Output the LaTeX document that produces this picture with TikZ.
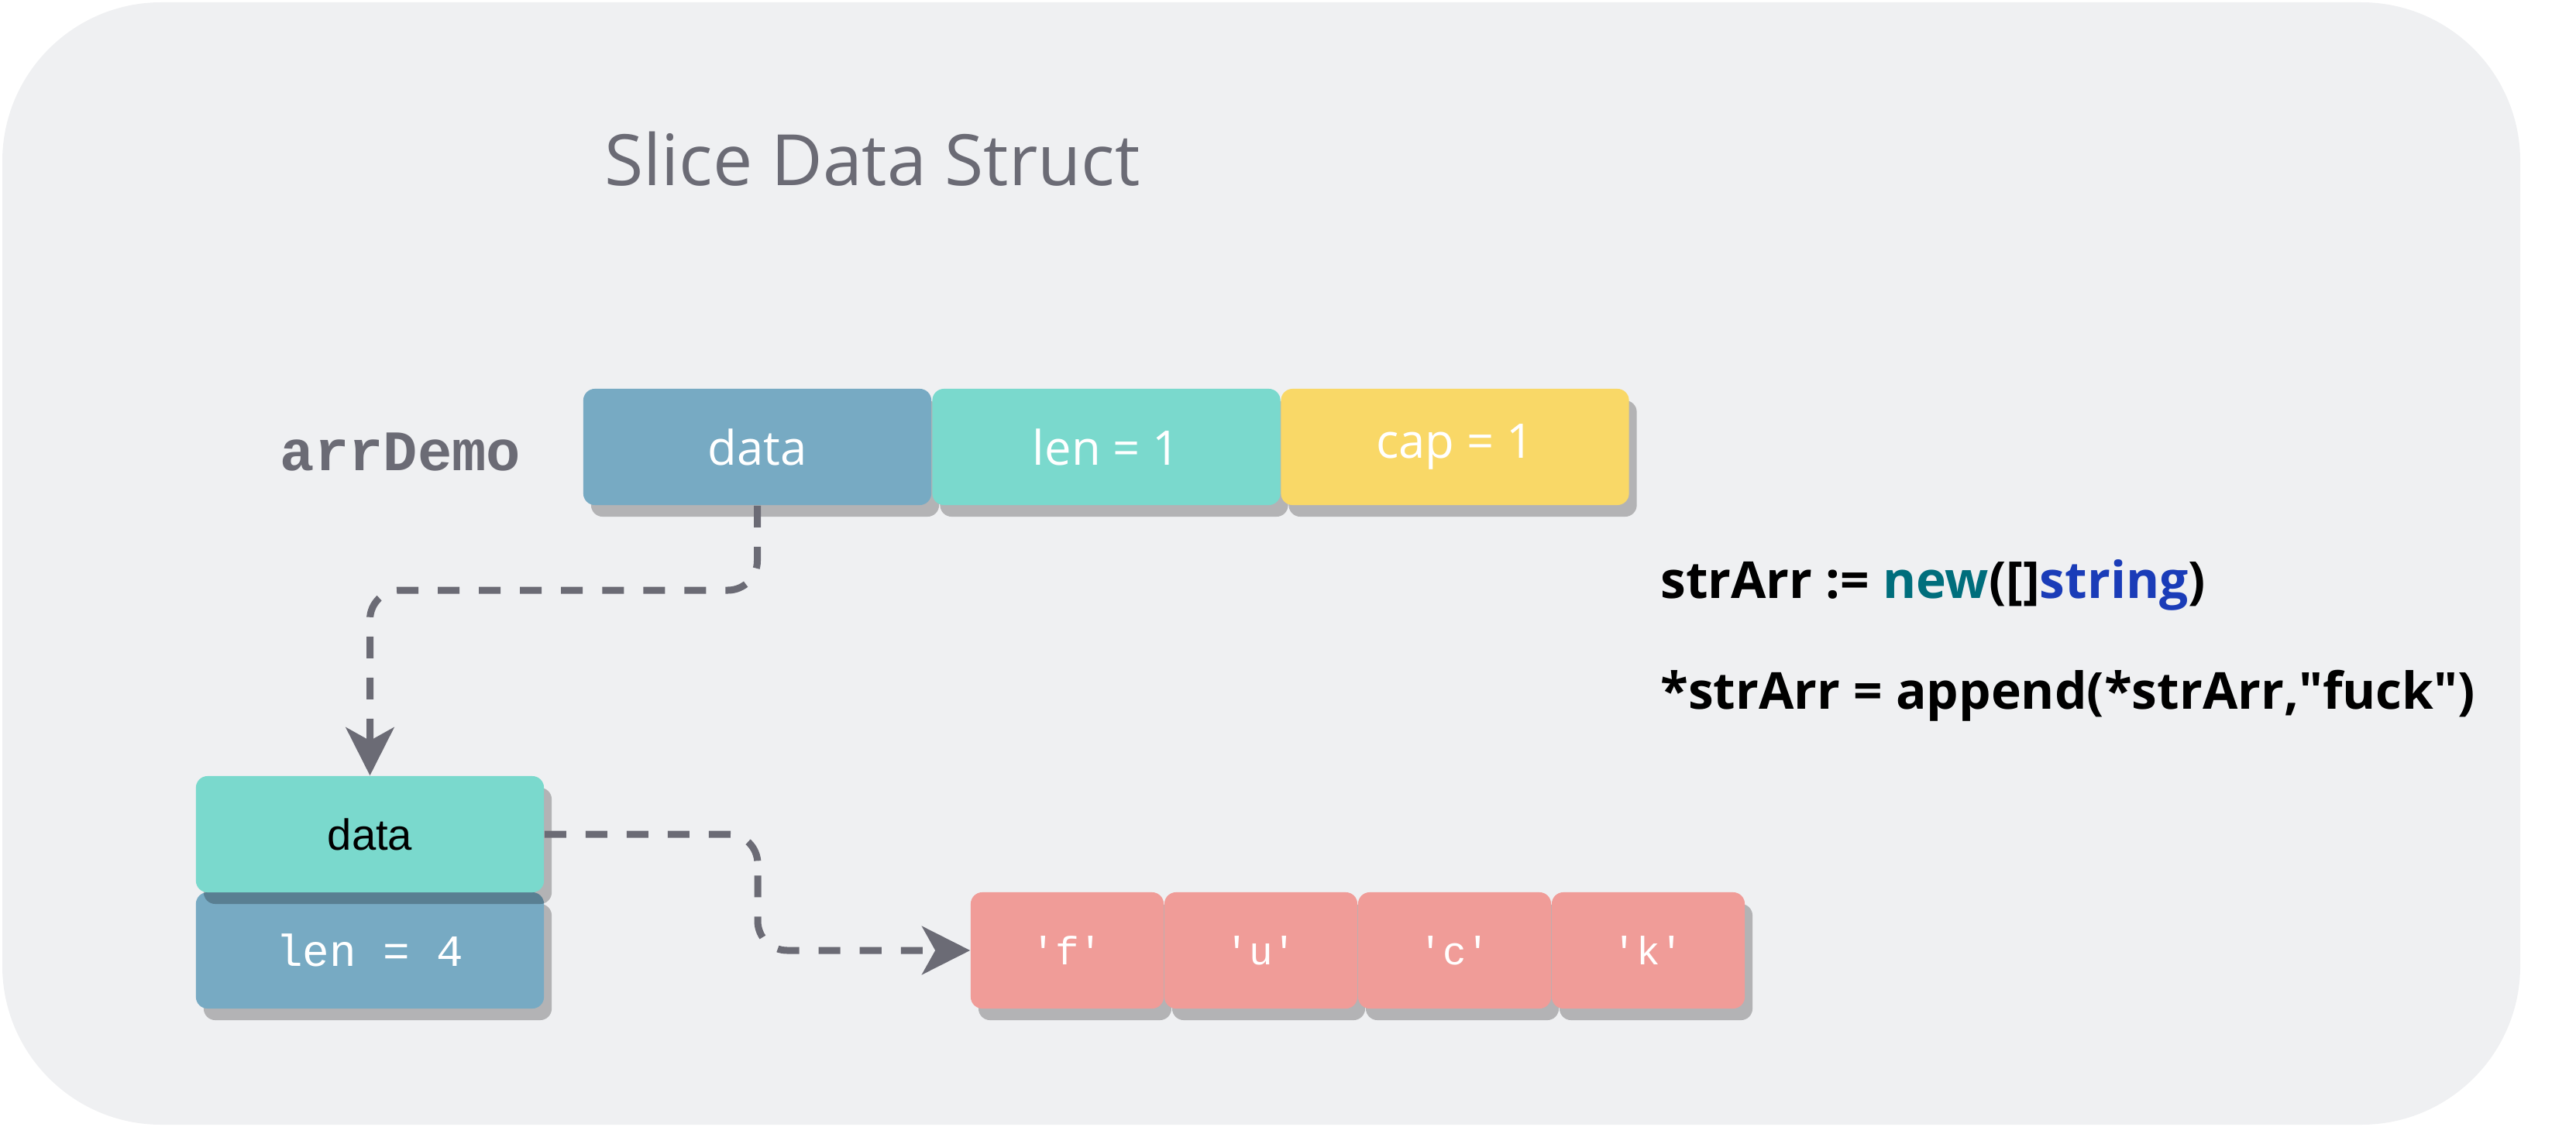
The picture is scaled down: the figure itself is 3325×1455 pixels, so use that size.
\documentclass[tikz,border=0pt]{standalone}
\usepackage{fontspec}
\setmainfont{Open Sans}
\newfontfamily\codef{Open Sans}
\newfontfamily\monof{Liberation Mono}
\newfontfamily\helvf{Liberation Sans}
\usetikzlibrary{arrows.meta,shadows}
\definecolor{bgc}{HTML}{EFF0F2}
\definecolor{graytxt}{HTML}{6B6B75}
\definecolor{bluebox}{HTML}{77AAC3}
\definecolor{tealbox}{HTML}{7AD9CD}
\definecolor{yellowbox}{HTML}{F9D867}
\definecolor{pinkbox}{HTML}{F09C98}
\definecolor{kwnew}{HTML}{006E7C}
\definecolor{kwstring}{HTML}{1A3CB8}
\tikzset{
  cell/.style={rectangle, rounded corners=0.15cm, inner sep=0pt, draw=none,
    drop shadow={shadow xshift=0.1cm, shadow yshift=-0.15cm, opacity=0.25, fill=black}},
  bigcell/.style={cell, minimum width=4.49cm, minimum height=1.5cm},
  smallcell/.style={cell, minimum width=2.49cm, minimum height=1.5cm},
  conn/.style={draw=graytxt, line width=0.09cm, dash pattern=on 0.28cm off 0.25cm,
    rounded corners=0.38cm, -{Stealth[length=0.62cm, width=0.62cm, inset=0.17cm]}},
  whitetxt/.style={text=white, font=\fontsize{17.5}{21}\selectfont},
  chartxt/.style={text=white, font=\monof\fontsize{14.5}{18}\selectfont},
  codetxt/.style={anchor=base west, font=\codef\bfseries\fontsize{18.7}{23}\selectfont},
}
\begin{document}
\begin{tikzpicture}[x=0.01cm, y=-0.01cm]
\useasboundingbox (0,0) rectangle (3325,1455);
\fill[bgc, rounded corners=2.05cm] (3,3) rectangle (3253,1452);

\node[anchor=base, text=graytxt, font=\fontsize{26}{30}\selectfont] (title) at (1126,240) {Slice Data Struct};
\node[anchor=base, text=graytxt, font=\monof\bfseries\fontsize{21}{25}\selectfont] (arrname) at (517,607) {arrDemo};

\node[bigcell, fill=bluebox, whitetxt] (data) at (977.5,577) {data};
\node[bigcell, fill=tealbox, whitetxt] (len) at (1428,577) {len = 1};
\node[bigcell, fill=yellowbox, whitetxt] (cap) at (1878,577) {cap = 1};

\node[bigcell, fill=bluebox, text=white, font=\monof\fontsize{16.4}{20}\selectfont] (len4) at (477.5,1227) {len = 4};
\node[bigcell, fill=tealbox, text=black, font=\helvf\fontsize{16}{20}\selectfont] (data2) at (477.5,1077) {data};

\node[smallcell, fill=pinkbox, chartxt] (p1) at (1377.5,1227) {'f'};
\node[smallcell, fill=pinkbox, chartxt] (p2) at (1627.5,1227) {'u'};
\node[smallcell, fill=pinkbox, chartxt] (p3) at (1877.5,1227) {'c'};
\node[smallcell, fill=pinkbox, chartxt] (p4) at (2127.5,1227) {'k'};

\node[codetxt] (code1) at (2131,772)
  {strArr := \textcolor{kwnew}{new}([]\textcolor{kwstring}{string})};
\node[codetxt] (code2) at (2131,915)
  {*strArr = append(*strArr,"fuck")};

\coordinate (m1) at (977.5,762);
\coordinate (m2) at (978,1150);
\draw[conn] (data.south) -- (m1) -| (data2.north);
\draw[conn] (data2.east) -| (m2) |- (p1.west);
\end{tikzpicture}
\end{document}
